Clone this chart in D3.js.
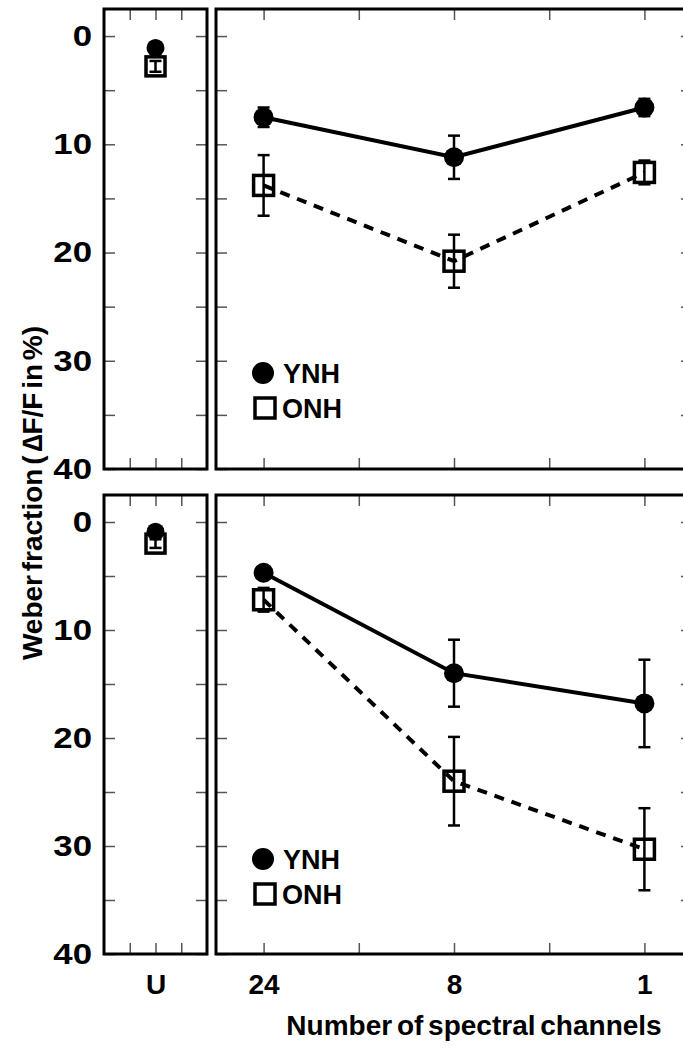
<!DOCTYPE html>
<html>
<head>
<meta charset="utf-8">
<script src="https://cdn.jsdelivr.net/npm/d3@7"></script>
<style>
  body { margin: 0; background: #fff; }
  svg { display: block; }
  text { font-family: "Liberation Sans", Arial, sans-serif; font-weight: bold; fill: #000; }
</style>
</head>
<body>
<div id="chart"></div>
<script>
// channel conditions (right panels) and the unprocessed condition (left panels)
var channels = ["24", "8", "1"];
var unprocLabel = "U";
var yTickLabels = [0, 10, 20, 30, 40];

// top row
var ynhTop = [7.5, 11.2, 6.6];
var ynhTopErr = [0.9, 2.0, 0.8];
var onhTop = [13.8, 20.8, 12.6];
var onhTopErr = [2.8, 2.45, 1.1];
var uTop = [1.1, 2.8];        // YNH, ONH
var uTopErr = [0.3, 0.5];

// bottom row
var ynhBot = [4.7, 14.0, 16.8];
var ynhBotErr = [0.3, 3.1, 4.05];
var onhBot = [7.2, 24.0, 30.3];
var onhBotErr = [1.1, 4.1, 3.8];
var uBot = [0.9, 2.0];
var uBotErr = [0.2, 0.4];

var W = 683, H = 1048;
var svg = d3.select('#chart').append('svg')
    .attr('width', W)
    .attr('height', H);

var rows = [
  { top: 9, bottom: 469, ynh: ynhTop, ynhErr: ynhTopErr, onh: onhTop, onhErr: onhTopErr, u: uTop, uErr: uTopErr, labels: false },
  { top: 495, bottom: 954, ynh: ynhBot, ynhErr: ynhBotErr, onh: onhBot, onhErr: onhBotErr, u: uBot, uErr: uBotErr, labels: true }
];

var leftX = d3.scaleLinear().domain([0, 4]).range([104, 207]);
var rightX = d3.scaleLinear().domain([-0.5, 4.5]).range([216, 692]);
var tickLen = 11;
var yTicks = d3.range(0, 41, 5);

function styleAxis(g) {
  g.select('.domain').remove();
  g.selectAll('.tick line').attr('stroke', '#555').attr('stroke-width', 1.5);
  g.selectAll('.tick text').attr('font-size', 28);
}

function errBar(g, x, y, v, e) {
  var cap = 6;
  var y1 = y(v - e), y2 = y(v + e);
  g.append('line').attr('x1', x).attr('x2', x).attr('y1', y1).attr('y2', y2);
  g.append('line').attr('x1', x - cap).attr('x2', x + cap).attr('y1', y1).attr('y2', y1);
  g.append('line').attr('x1', x - cap).attr('x2', x + cap).attr('y1', y2).attr('y2', y2);
}

function circle(g, x, y, r) {
  g.append('circle').attr('cx', x).attr('cy', y).attr('r', r || 10).attr('fill', '#000');
}

function square(g, x, y, s) {
  s = s || 19;
  g.append('rect').attr('x', x - s / 2).attr('y', y - s / 2)
    .attr('width', s).attr('height', s)
    .attr('fill', 'none').attr('stroke', '#000').attr('stroke-width', 3.5);
}

rows.forEach(function(row) {
  var y = d3.scaleLinear().domain([-2.5, 40]).range([row.top, row.bottom]);

  // ---- left panel (U) ----
  var lp = svg.append('g');
  lp.append('g').attr('transform', 'translate(' + leftX.range()[0] + ',0)')
    .call(d3.axisLeft(y).tickValues(yTicks).tickSize(-tickLen).tickPadding(10)
      .tickFormat(function(d) { return yTickLabels.indexOf(d) >= 0 ? d : ''; }))
    .call(styleAxis)
    .call(function(g) { g.selectAll('.tick text').attr('font-size', 29).attr('transform', 'scale(1.2,1)'); });
  lp.append('g').attr('transform', 'translate(' + leftX.range()[1] + ',0)')
    .call(d3.axisRight(y).tickValues(yTicks).tickSize(-tickLen).tickFormat(''))
    .call(styleAxis);
  lp.append('g').attr('transform', 'translate(0,' + row.top + ')')
    .call(d3.axisTop(leftX).tickValues([1, 2, 3]).tickSize(-tickLen).tickFormat(''))
    .call(styleAxis);
  lp.append('g').attr('transform', 'translate(0,' + row.bottom + ')')
    .call(d3.axisBottom(leftX).tickValues([1, 2, 3]).tickSize(-tickLen).tickPadding(20)
      .tickFormat(function(d) { return row.labels && d === 2 ? unprocLabel : ''; }))
    .call(styleAxis);
  lp.append('rect')
    .attr('x', leftX.range()[0]).attr('y', row.top)
    .attr('width', leftX.range()[1] - leftX.range()[0]).attr('height', row.bottom - row.top)
    .attr('fill', 'none').attr('stroke', '#000').attr('stroke-width', 3);

  var lm = lp.append('g').attr('stroke', '#000').attr('stroke-width', 2.5);
  errBar(lm, leftX(2), y, row.u[1], row.uErr[1]);
  errBar(lm, leftX(2), y, row.u[0], row.uErr[0]);
  circle(lp, leftX(2), y(row.u[0]), 9);
  square(lp, leftX(2), y(row.u[1]));

  // ---- right panel (channels) ----
  var rp = svg.append('g');
  rp.append('g').attr('transform', 'translate(' + rightX.range()[0] + ',0)')
    .call(d3.axisLeft(y).tickValues(yTicks).tickSize(-tickLen).tickFormat(''))
    .call(styleAxis);
  rp.append('g').attr('transform', 'translate(' + rightX.range()[1] + ',0)')
    .call(d3.axisRight(y).tickValues(yTicks).tickSize(-tickLen).tickFormat(''))
    .call(styleAxis);
  rp.append('g').attr('transform', 'translate(0,' + row.top + ')')
    .call(d3.axisTop(rightX).tickValues([0, 1, 2, 3, 4]).tickSize(-tickLen).tickFormat(''))
    .call(styleAxis);
  rp.append('g').attr('transform', 'translate(0,' + row.bottom + ')')
    .call(d3.axisBottom(rightX).tickValues([0, 1, 2, 3, 4]).tickSize(-tickLen).tickPadding(20)
      .tickFormat(function(d) { return row.labels && d % 2 === 0 ? channels[d / 2] : ''; }))
    .call(styleAxis);
  rp.append('rect')
    .attr('x', rightX.range()[0]).attr('y', row.top)
    .attr('width', rightX.range()[1] - rightX.range()[0]).attr('height', row.bottom - row.top)
    .attr('fill', 'none').attr('stroke', '#000').attr('stroke-width', 3);

  var line = d3.line()
    .x(function(d, i) { return rightX(i * 2); })
    .y(function(d) { return y(d); });

  rp.append('path').datum(row.onh).attr('d', line)
    .attr('fill', 'none').attr('stroke', '#000').attr('stroke-width', 4)
    .attr('stroke-dasharray', '10,8');
  rp.append('path').datum(row.ynh).attr('d', line)
    .attr('fill', 'none').attr('stroke', '#000').attr('stroke-width', 4);

  var rm = rp.append('g').attr('stroke', '#000').attr('stroke-width', 2.5);
  channels.forEach(function(c, i) {
    errBar(rm, rightX(i * 2), y, row.onh[i], row.onhErr[i]);
    errBar(rm, rightX(i * 2), y, row.ynh[i], row.ynhErr[i]);
  });
  row.ynh.forEach(function(v, i) { circle(rp, rightX(i * 2), y(v), 10); });
  row.onh.forEach(function(v, i) { square(rp, rightX(i * 2), y(v), 20); });

  // legend
  var lg = rp.append('g').attr('transform', 'translate(263,' + (row.top + 364) + ')');
  circle(lg, 0, 0, 11);
  lg.append('text').attr('x', 20).attr('y', 10).attr('font-size', 27).text('YNH');
  square(lg, 2, 35, 20);
  lg.append('text').attr('x', 19).attr('y', 45).attr('font-size', 27).text('ONH');
});

// axis titles
svg.append('text')
  .attr('transform', 'translate(42,493) rotate(-90)')
  .attr('text-anchor', 'middle')
  .attr('font-size', 28)
  .attr('word-spacing', -4)
  .text('Weber fraction ( \u2206F/F in %)');

svg.append('text')
  .attr('x', 474).attr('y', 1035)
  .attr('text-anchor', 'middle')
  .attr('font-size', 28)
  .attr('word-spacing', -3)
  .text('Number of spectral channels');
</script>
</body>
</html>
